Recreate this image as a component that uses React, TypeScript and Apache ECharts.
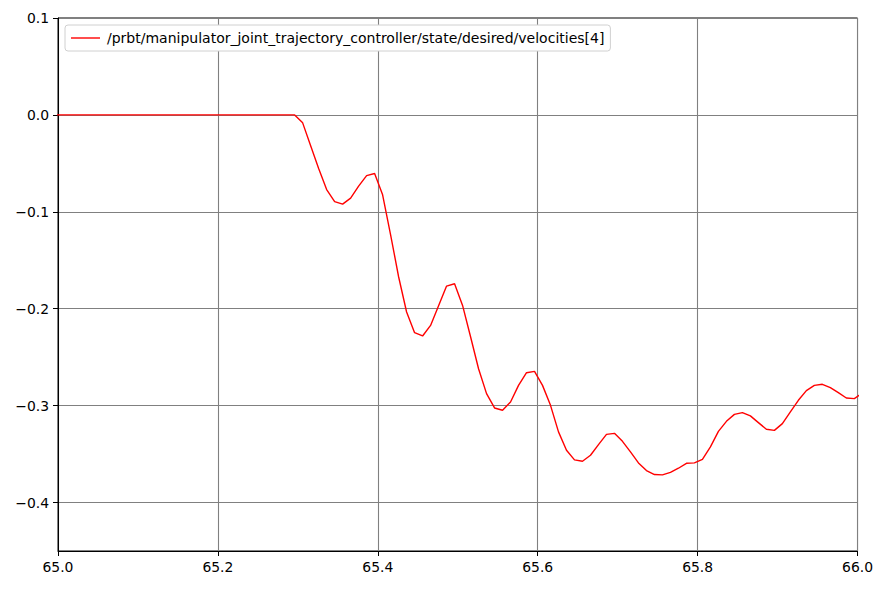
import React, { useEffect, useRef } from 'react';
import * as echarts from 'echarts';

const seriesName =
  '/prbt/manipulator_joint_trajectory_controller/state/desired/velocities[4]';

// flat part before the motion starts
const flatTimes = [64.996, 65.296];
const flatValues = [0, 0];

// sample times (s) and velocities
const times = [
  65.306, 65.316, 65.326, 65.336, 65.346, 65.356, 65.366, 65.376, 65.386, 65.396,
  65.406, 65.416, 65.426, 65.436, 65.446, 65.456, 65.466, 65.476, 65.486, 65.496,
  65.506, 65.516, 65.526, 65.536, 65.546, 65.556, 65.566, 65.576, 65.586, 65.596,
  65.606, 65.616, 65.626, 65.636, 65.646, 65.656, 65.666, 65.676, 65.686, 65.696,
  65.706, 65.716, 65.726, 65.736, 65.746, 65.756, 65.766, 65.776, 65.786, 65.796,
  65.806, 65.816, 65.826, 65.836, 65.846, 65.856, 65.866, 65.876, 65.886, 65.896,
  65.906, 65.916, 65.926, 65.936, 65.946, 65.956, 65.966, 65.976, 65.986, 65.996,
  66.006,
];
const velocities = [
  -0.0082, -0.0319, -0.0554, -0.077, -0.0894, -0.0921, -0.0859, -0.0735, -0.0626, -0.0605,
  -0.0825, -0.1237, -0.167, -0.2034, -0.2247, -0.2281, -0.2172, -0.1969, -0.1766, -0.1742,
  -0.1966, -0.2289, -0.2619, -0.2876, -0.3024, -0.3048, -0.2962, -0.2791, -0.266, -0.2646,
  -0.2791, -0.2997, -0.3271, -0.3461, -0.356, -0.3574, -0.3512, -0.3402, -0.3296, -0.3286,
  -0.3368, -0.3477, -0.3591, -0.367, -0.3711, -0.3714, -0.3688, -0.3646, -0.3595, -0.3591,
  -0.3554, -0.3426, -0.3265, -0.3162, -0.309, -0.3072, -0.3106, -0.3175, -0.3244, -0.3255,
  -0.3186, -0.3065, -0.2945, -0.2845, -0.2791, -0.278, -0.2814, -0.2866, -0.2921, -0.2928,
  -0.2871,
];

const yTicks = [0.1, 0.0, -0.1, -0.2, -0.3, -0.4];

const font = 'DejaVu Sans';
const fmt = (v: number) => v.toFixed(1).replace('-', '\u2212');

const App: React.FC = () => {
  const chartref = useRef<HTMLDivElement>(null);
  useEffect(() => {
    const myChart = echarts.init(chartref.current as HTMLDivElement, undefined, {
      renderer: 'svg',
    });
    const data: [number, number][] = [
      ...flatTimes.map((t, i) => [t, flatValues[i]] as [number, number]),
      ...times.map((t, i) => [t, velocities[i]] as [number, number]),
    ];
    const option: echarts.EChartsOption = {
      animation: false,
      backgroundColor: '#fff',
      textStyle: { fontFamily: font },
      grid: {
        left: 58,
        right: 18,
        top: 18,
        bottom: 40,
        show: true,
        borderColor: '#000',
        borderWidth: 1,
      },
      legend: {
        left: 65,
        top: 25,
        padding: [6, 6, 6, 6],
        itemWidth: 29,
        itemHeight: 1.4,
        itemGap: 10,
        backgroundColor: '#fff',
        borderColor: '#d0d0d0',
        borderWidth: 1,
        borderRadius: 3,
        icon: 'rect',
        textStyle: { fontFamily: font, fontSize: 14, color: '#000', padding: [0, 0, 0, 2] },
        data: [seriesName],
      },
      xAxis: {
        type: 'value',
        min: 65,
        max: 66,
        interval: 0.2,
        axisLine: { onZero: false, lineStyle: { color: '#000', width: 1 } },
        axisTick: { length: 5, lineStyle: { color: '#000' } },
        axisLabel: {
          color: '#000',
          fontSize: 13.9,
          fontFamily: font,
          margin: 9,
          formatter: (v: number) => fmt(v),
        },
        splitLine: { show: true, lineStyle: { color: '#808080', width: 1.1 } },
      },
      yAxis: {
        type: 'value',
        min: -0.45,
        max: 0.1,
        axisLine: { show: true, onZero: false, lineStyle: { color: '#000', width: 1 } },
        axisTick: {
          show: true,
          length: 5,
          lineStyle: { color: '#000' },
          customValues: yTicks,
        },
        axisLabel: {
          color: '#000',
          fontSize: 13.9,
          fontFamily: font,
          margin: 9,
          customValues: yTicks,
          formatter: (v: number) => fmt(v),
        },
        splitLine: { show: true, lineStyle: { color: '#808080', width: 1.1 } },
      },
      series: [
        {
          name: seriesName,
          type: 'line',
          data,
          symbol: 'none',
          clip: true,
          lineStyle: { color: '#ff0000', width: 1.4 },
          itemStyle: { color: '#ff0000' },
        },
      ],
    };
    myChart.setOption(option);
    return () => {
      myChart.dispose();
    };
  }, []);

  return (
    <div
      ref={chartref}
      style={{ position: 'absolute', left: 0, top: 0, width: 876, height: 591 }}
    />
  );
};

export default App;
